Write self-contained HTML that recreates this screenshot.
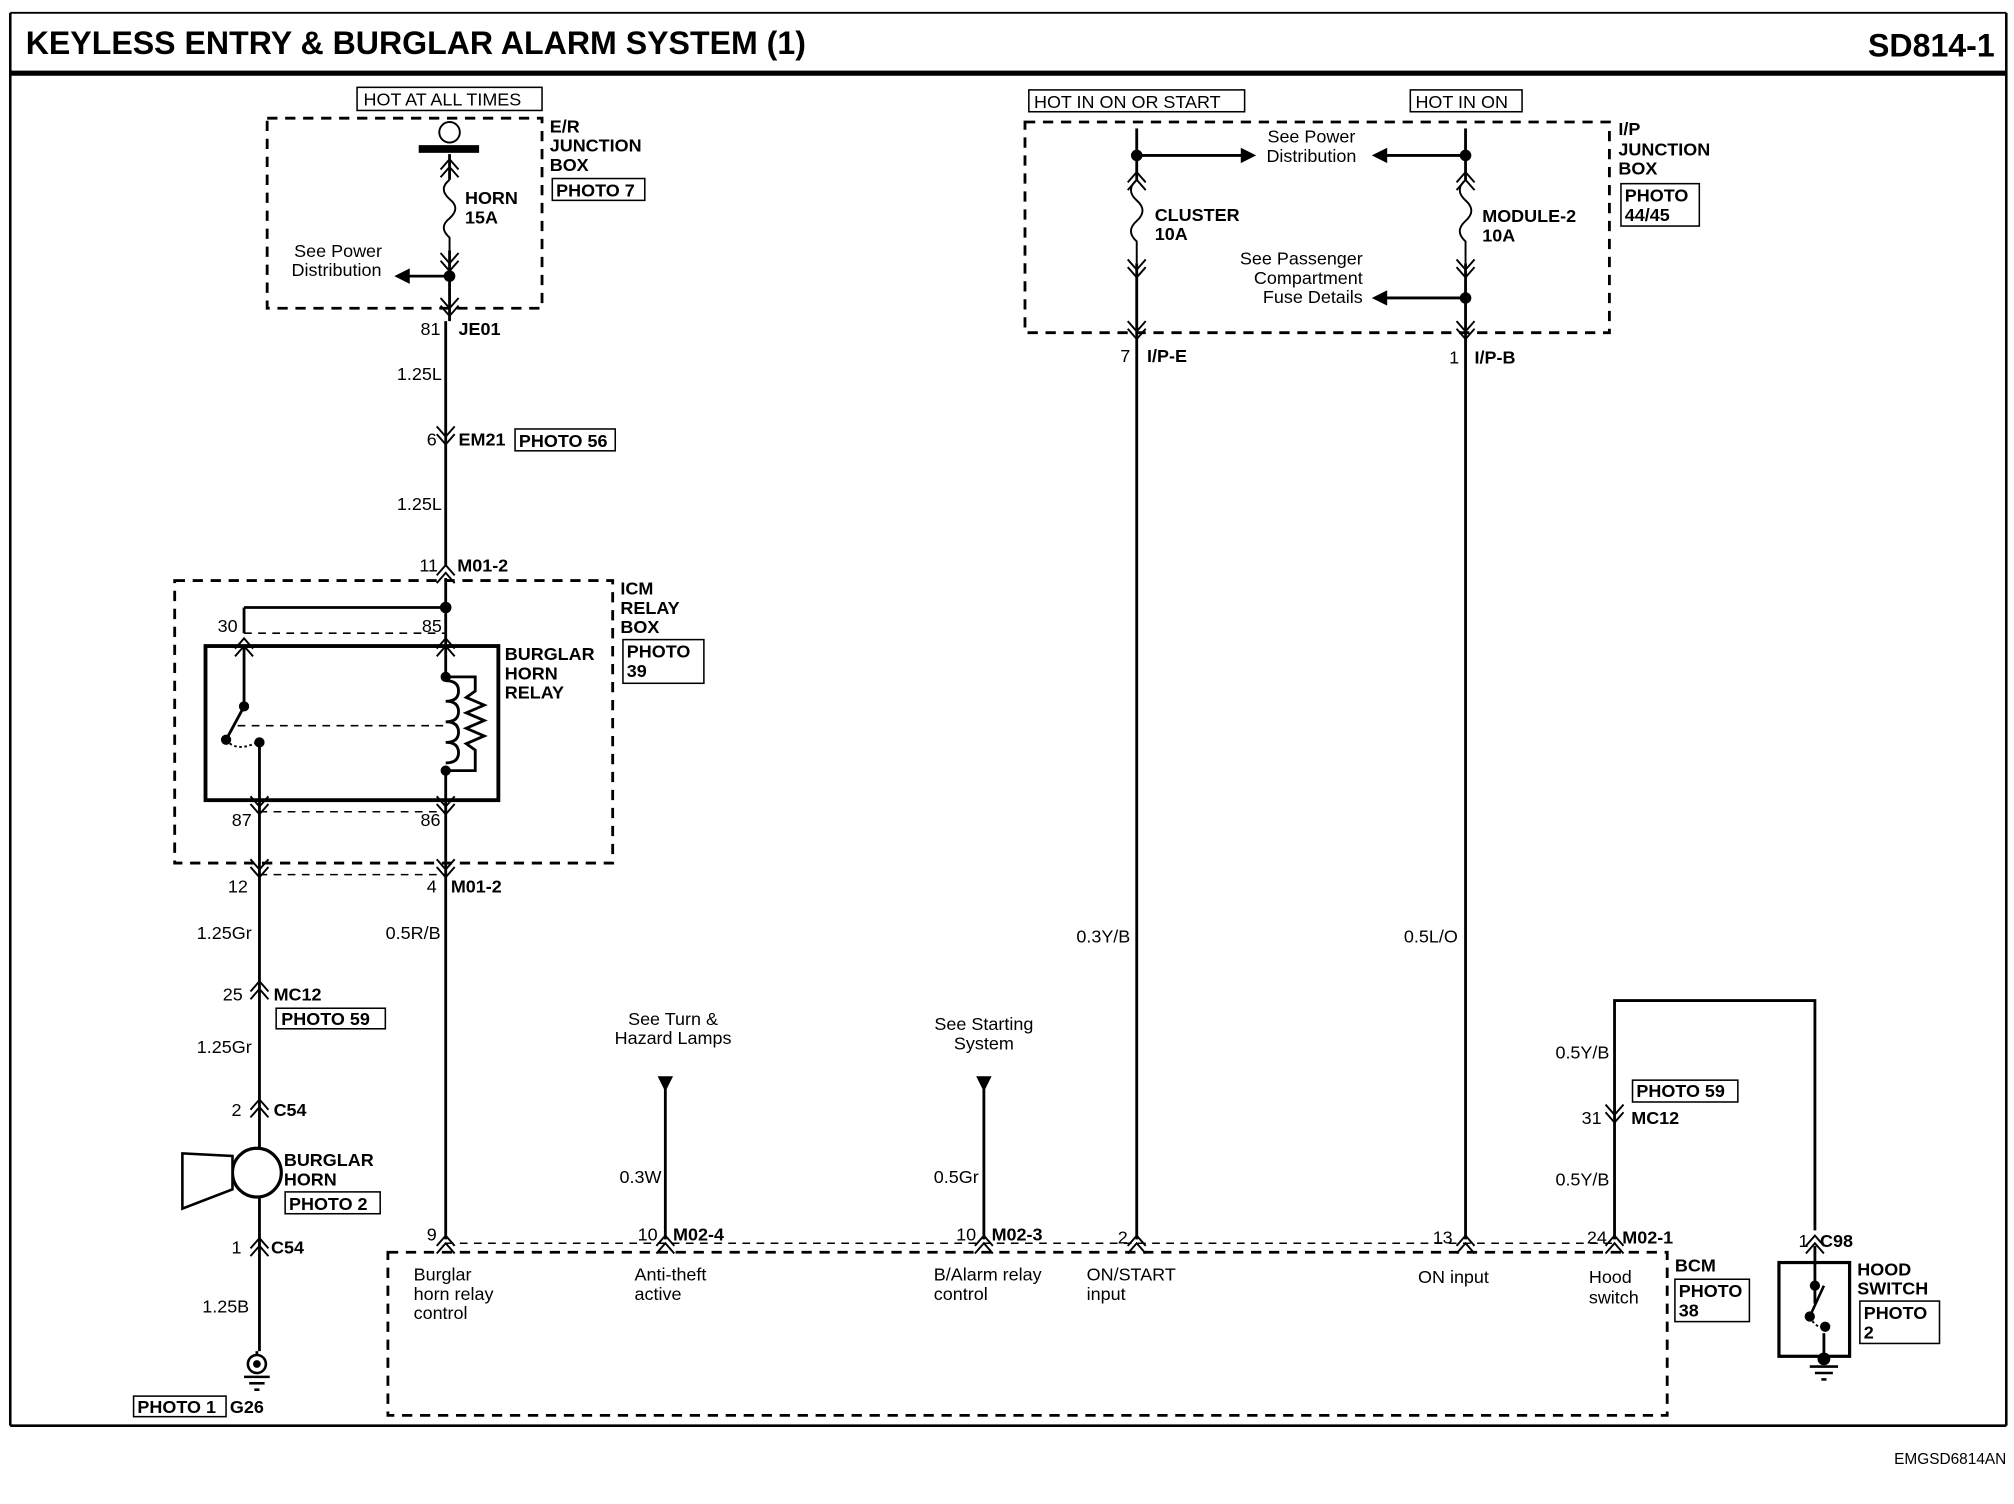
<!DOCTYPE html>
<html><head><meta charset="utf-8"><style>
html,body{margin:0;padding:0;background:#fff}
svg{display:block}
text{font-family:"Liberation Sans",Arial,sans-serif;font-size:14px;fill:#000}
.b{font-weight:bold}
</style></head><body>
<svg width="2014" height="1504" viewBox="0 0 1568 1171" preserveAspectRatio="none" xmlns="http://www.w3.org/2000/svg">
<defs>
<g id="dn" fill="none" stroke="#000" stroke-width="1.5"><polyline points="-7,-8 0,0 7,-8"/><polyline points="-7,-2 0,6 7,-2"/></g>
<g id="up" fill="none" stroke="#000" stroke-width="1.5"><polyline points="-7,8 0,0 7,8"/><polyline points="-7,2 0,-6 7,2"/></g>
</defs>
<g fill="none" stroke="#000">
<!-- frame -->
<line x1="8" y1="10" x2="1562" y2="10" stroke-width="1.5"/>
<line x1="8" y1="57" x2="1562" y2="57" stroke-width="4"/>
<line x1="8" y1="10" x2="8" y2="1110" stroke-width="2"/>
<line x1="1562" y1="10" x2="1562" y2="1110" stroke-width="2"/>
<line x1="8" y1="1110" x2="1562" y2="1110" stroke-width="2"/>
<!-- dashed boxes -->
<g stroke-width="2.2" stroke-dasharray="8,6">
<rect x="208" y="92" width="214" height="148"/>
<rect x="798" y="95" width="455" height="164"/>
<rect x="136" y="452" width="341" height="220"/>
<rect x="302" y="975" width="996" height="127"/>
</g>
<g stroke-width="1.2" stroke-dasharray="6,5">
<line x1="190" y1="493" x2="347" y2="493"/>
<line x1="202" y1="632" x2="347" y2="632"/>
<line x1="202" y1="681" x2="347" y2="681"/>
<line x1="347" y1="968" x2="1257" y2="968"/>
<line x1="185" y1="565" x2="345" y2="565"/>
</g>
<!-- label boxes -->
<g stroke-width="1.2">
<rect x="278" y="68" width="144" height="18"/>
<rect x="430" y="139" width="72" height="17"/>
<rect x="401" y="334" width="78" height="17"/>
<rect x="485" y="498" width="63" height="34"/>
<rect x="215" y="785" width="85" height="16"/>
<rect x="222" y="928" width="74" height="17"/>
<rect x="104" y="1087" width="72" height="16"/>
<rect x="801" y="70" width="168" height="17"/>
<rect x="1098" y="70" width="87" height="17"/>
<rect x="1262" y="143" width="61" height="33"/>
<rect x="1304" y="996" width="58" height="33"/>
<rect x="1271" y="841" width="82" height="17"/>
<rect x="1448" y="1013" width="62" height="33"/>
</g>
<!-- wires -->
<g stroke-width="2.2">
<line x1="350" y1="120" x2="350" y2="140"/>
<line x1="350" y1="195" x2="350" y2="250"/>
<line x1="350" y1="215" x2="318" y2="215"/>
<line x1="347" y1="250" x2="347" y2="440"/>
<line x1="347" y1="450" x2="347" y2="503"/>
<line x1="347" y1="473" x2="190" y2="473"/>
<line x1="190" y1="473" x2="190" y2="493"/>
<line x1="190" y1="503" x2="190" y2="550"/>
<line x1="190" y1="550" x2="176" y2="576"/>
<line x1="202" y1="578" x2="202" y2="1052"/>
<line x1="347" y1="503" x2="347" y2="530"/>
<line x1="347" y1="597" x2="347" y2="965"/>
<polyline points="347,527 370,527 370,538 363,543 377,549 363,555 377,561 363,567 377,573 363,579 370,584 370,600 347,600"/>
<path d="M347,530 q10,0 10,8 q0,8 -10,8 q10,0 10,8 q0,8 -10,8 q10,0 10,8 q0,8 -10,8 q10,0 10,8 q0,8 -10,8"/>
<line x1="518" y1="845" x2="518" y2="965"/>
<line x1="766" y1="845" x2="766" y2="965"/>
<line x1="885" y1="100" x2="885" y2="140"/>
<line x1="885" y1="205" x2="885" y2="965"/>
<line x1="1141" y1="100" x2="1141" y2="140"/>
<line x1="1141" y1="205" x2="1141" y2="965"/>
<line x1="885" y1="121" x2="968" y2="121"/>
<line x1="1141" y1="121" x2="1078" y2="121"/>
<line x1="1141" y1="232" x2="1078" y2="232"/>
<polyline points="1257,965 1257,779 1413,779 1413,958"/>
<line x1="1413" y1="970" x2="1413" y2="1015"/>
<line x1="1420" y1="1038" x2="1420" y2="1062"/>
<line x1="200" y1="1052" x2="200" y2="1055"/>
</g>
<rect x="160" y="503" width="228" height="120" stroke-width="3"/>
<rect x="1385" y="983" width="55" height="73" stroke-width="2.5"/>
<line x1="1420" y1="1001" x2="1409" y2="1025" stroke-width="2"/>
<path d="M1409,1025 q5,10 12,8" stroke-width="1.5" stroke-dasharray="2,2"/>
<path d="M176,576 q8,10 24,2" stroke-width="1.5" stroke-dasharray="2,2"/>
<!-- fuses -->
<g stroke-width="1.5">
<path d="M350,140 q-9,7 0,15 q9,7 0,15 q-9,7 0,15 l0,10"/>
<path d="M885,140 q-9,8 0,16 q9,8 0,16 q-9,8 0,16 l0,17"/>
<path d="M1141,140 q-9,8 0,16 q9,8 0,16 q-9,8 0,16 l0,17"/>
</g>
<circle cx="350" cy="103" r="8" stroke-width="1.5" fill="#fff"/>
<circle cx="200" cy="913" r="19" stroke-width="2.5" fill="#fff"/>
<polygon points="142,898 181,900 181,926 142,941" stroke-width="2" fill="#fff"/>
<circle cx="200" cy="1062" r="7" stroke-width="2"/>
<!-- grounds -->
<g stroke-width="2">
<line x1="190" y1="1072" x2="210" y2="1072"/><line x1="194" y1="1077" x2="206" y2="1077"/><line x1="198" y1="1082" x2="202" y2="1082"/>
<line x1="1409" y1="1064" x2="1431" y2="1064"/><line x1="1413" y1="1069" x2="1427" y2="1069"/><line x1="1418" y1="1074" x2="1422" y2="1074"/>
</g>
</g>
<rect x="326" y="113" width="47" height="6"/>
<g fill="#000">
<circle cx="350" cy="215" r="4.5"/><polygon points="307,215 319,209 319,221"/>
<circle cx="347" cy="473" r="4.5"/>
<circle cx="190" cy="550" r="4"/><circle cx="176" cy="576" r="4"/><circle cx="202" cy="578" r="4"/>
<circle cx="347" cy="527" r="4"/><circle cx="347" cy="600" r="4"/>
<circle cx="200" cy="1062" r="3"/>
<circle cx="885" cy="121" r="4.5"/><circle cx="1141" cy="121" r="4.5"/><circle cx="1141" cy="232" r="4.5"/>
<polygon points="978,121 966,115 966,127"/><polygon points="1068,121 1080,115 1080,127"/><polygon points="1068,232 1080,226 1080,238"/>
<polygon points="512,838 524,838 518,850"/><polygon points="760,838 772,838 766,850"/>
<circle cx="1413" cy="1001" r="4"/><circle cx="1409" cy="1025" r="4"/><circle cx="1421" cy="1033" r="4"/><circle cx="1420" cy="1058" r="5"/>
</g>
<!-- connectors -->
<use href="#up" x="350" y="130"/><use href="#dn" x="350" y="205"/><use href="#dn" x="350" y="240"/>
<use href="#dn" x="347" y="340"/><use href="#up" x="347" y="446"/>
<use href="#up" x="190" y="503"/><use href="#up" x="347" y="503"/>
<use href="#dn" x="202" y="628"/><use href="#dn" x="347" y="628"/>
<use href="#dn" x="202" y="677"/><use href="#dn" x="347" y="677"/>
<use href="#up" x="202" y="770"/><use href="#up" x="202" y="862"/><use href="#up" x="202" y="970"/>
<use href="#up" x="347" y="968"/><use href="#up" x="518" y="968"/><use href="#up" x="766" y="968"/>
<use href="#up" x="885" y="968"/><use href="#up" x="1141" y="968"/><use href="#up" x="1257" y="968"/>
<use href="#up" x="885" y="140"/><use href="#dn" x="885" y="210"/><use href="#dn" x="885" y="258"/>
<use href="#up" x="1141" y="140"/><use href="#dn" x="1141" y="210"/><use href="#dn" x="1141" y="258"/>
<use href="#dn" x="1257" y="868"/><use href="#up" x="1413" y="968"/>
<!-- text -->
<text x="20" y="42" class="b" style="font-size:25px">KEYLESS ENTRY &amp; BURGLAR ALARM SYSTEM (1)</text>
<text x="1553" y="44" class="b" text-anchor="end" style="font-size:25px">SD814-1</text>
<text x="1562" y="1140" text-anchor="end" style="font-size:12px">EMGSD6814AN</text>
<text x="283" y="82">HOT AT ALL TIMES</text>
<text x="428" y="103" class="b">E/R</text><text x="428" y="118" class="b">JUNCTION</text><text x="428" y="133" class="b">BOX</text>
<text x="433" y="153" class="b">PHOTO 7</text>
<text x="362" y="159" class="b">HORN</text><text x="362" y="174" class="b">15A</text>
<text x="229" y="200">See Power</text><text x="227" y="215">Distribution</text>
<text x="343" y="261" text-anchor="end">81</text><text x="357" y="261" class="b">JE01</text>
<text x="344" y="296" text-anchor="end">1.25L</text>
<text x="340" y="347" text-anchor="end">6</text><text x="357" y="347" class="b">EM21</text><text x="404" y="348" class="b">PHOTO 56</text>
<text x="344" y="397" text-anchor="end">1.25L</text>
<text x="341" y="445" text-anchor="end">11</text><text x="356" y="445" class="b">M01-2</text>
<text x="483" y="463" class="b">ICM</text><text x="483" y="478" class="b">RELAY</text><text x="483" y="493" class="b">BOX</text>
<text x="488" y="512" class="b">PHOTO</text><text x="488" y="527" class="b">39</text>
<text x="393" y="514" class="b">BURGLAR</text><text x="393" y="529" class="b">HORN</text><text x="393" y="544" class="b">RELAY</text>
<text x="185" y="492" text-anchor="end">30</text><text x="344" y="492" text-anchor="end">85</text>
<text x="196" y="643" text-anchor="end">87</text><text x="343" y="643" text-anchor="end">86</text>
<text x="193" y="695" text-anchor="end">12</text><text x="340" y="695" text-anchor="end">4</text><text x="351" y="695" class="b">M01-2</text>
<text x="196" y="731" text-anchor="end">1.25Gr</text><text x="343" y="731" text-anchor="end">0.5R/B</text>
<text x="189" y="779" text-anchor="end">25</text><text x="213" y="779" class="b">MC12</text><text x="219" y="798" class="b">PHOTO 59</text>
<text x="196" y="820" text-anchor="end">1.25Gr</text>
<text x="188" y="869" text-anchor="end">2</text><text x="213" y="869" class="b">C54</text>
<text x="221" y="908" class="b">BURGLAR</text><text x="221" y="923" class="b">HORN</text><text x="225" y="942" class="b">PHOTO 2</text>
<text x="188" y="976" text-anchor="end">1</text><text x="211" y="976" class="b">C54</text>
<text x="194" y="1022" text-anchor="end">1.25B</text>
<text x="107" y="1100" class="b">PHOTO 1</text><text x="179" y="1100" class="b">G26</text>
<text x="524" y="798" text-anchor="middle">See Turn &amp;</text><text x="524" y="813" text-anchor="middle">Hazard Lamps</text>
<text x="766" y="802" text-anchor="middle">See Starting</text><text x="766" y="817" text-anchor="middle">System</text>
<text x="515" y="921" text-anchor="end">0.3W</text><text x="762" y="921" text-anchor="end">0.5Gr</text>
<text x="340" y="966" text-anchor="end">9</text>
<text x="512" y="966" text-anchor="end">10</text><text x="524" y="966" class="b">M02-4</text>
<text x="760" y="966" text-anchor="end">10</text><text x="772" y="966" class="b">M02-3</text>
<text x="878" y="968" text-anchor="end">2</text>
<text x="1131" y="968" text-anchor="end">13</text>
<text x="1251" y="968" text-anchor="end">24</text><text x="1263" y="968" class="b">M02-1</text>
<text x="322" y="997">Burglar</text><text x="322" y="1012">horn relay</text><text x="322" y="1027">control</text>
<text x="494" y="997">Anti-theft</text><text x="494" y="1012">active</text>
<text x="727" y="997">B/Alarm relay</text><text x="727" y="1012">control</text>
<text x="846" y="997">ON/START</text><text x="846" y="1012">input</text>
<text x="1104" y="999">ON input</text>
<text x="1237" y="999">Hood</text><text x="1237" y="1015">switch</text>
<text x="1304" y="990" class="b">BCM</text><text x="1307" y="1010" class="b">PHOTO</text><text x="1307" y="1025" class="b">38</text>
<text x="805" y="84">HOT IN ON OR START</text><text x="1102" y="84">HOT IN ON</text>
<text x="1021" y="111" text-anchor="middle">See Power</text><text x="1021" y="126" text-anchor="middle">Distribution</text>
<text x="899" y="172" class="b">CLUSTER</text><text x="899" y="187" class="b">10A</text>
<text x="1154" y="173" class="b">MODULE-2</text><text x="1154" y="188" class="b">10A</text>
<text x="1061" y="206" text-anchor="end">See Passenger</text><text x="1061" y="221" text-anchor="end">Compartment</text><text x="1061" y="236" text-anchor="end">Fuse Details</text>
<text x="1260" y="105" class="b">I/P</text><text x="1260" y="121" class="b">JUNCTION</text><text x="1260" y="136" class="b">BOX</text>
<text x="1265" y="157" class="b">PHOTO</text><text x="1265" y="172" class="b">44/45</text>
<text x="880" y="282" text-anchor="end">7</text><text x="893" y="282" class="b">I/P-E</text>
<text x="1136" y="283" text-anchor="end">1</text><text x="1148" y="283" class="b">I/P-B</text>
<text x="880" y="734" text-anchor="end">0.3Y/B</text><text x="1135" y="734" text-anchor="end">0.5L/O</text>
<text x="1253" y="824" text-anchor="end">0.5Y/B</text>
<text x="1274" y="854" class="b">PHOTO 59</text>
<text x="1247" y="875" text-anchor="end">31</text><text x="1270" y="875" class="b">MC12</text>
<text x="1253" y="923" text-anchor="end">0.5Y/B</text>
<text x="1408" y="971" text-anchor="end">1</text><text x="1417" y="971" class="b">C98</text>
<text x="1446" y="993" class="b">HOOD</text><text x="1446" y="1008" class="b">SWITCH</text>
<text x="1451" y="1027" class="b">PHOTO</text><text x="1451" y="1042" class="b">2</text>
</svg>
</body></html>
